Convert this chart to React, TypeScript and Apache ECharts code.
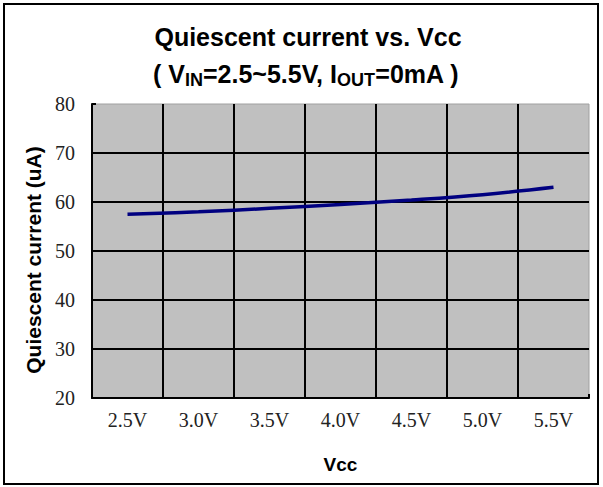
import React, { useEffect, useRef } from "react";
import * as echarts from "echarts";

const categories = ["2.5V", "3.0V", "3.5V", "4.0V", "4.5V", "5.0V", "5.5V"];
const currentValues = [57.5, 58.0, 58.7, 59.5, 60.4, 61.5, 63.0];
const yMin = 20;
const yMax = 80;
const yInterval = 10;

const SANS = "'Liberation Sans', Arial, sans-serif";
const SERIF = "Liberation Serif";

export default function App() {
  const ref = useRef<HTMLDivElement>(null);
  useEffect(() => {
    if (!ref.current) return;
    const chart = echarts.init(ref.current, null, { renderer: "svg" });
    chart.setOption({
      animation: false,
      backgroundColor: "#ffffff",
      textStyle: { fontFamily: SERIF },
      grid: {
        left: 92,
        right: 14,
        top: 104,
        bottom: 89,
        show: true,
        backgroundColor: "#C0C0C0",
        borderColor: "#A0A0A0",
        borderWidth: 1,
      },
      graphic: [
        {
          type: "rect",
          shape: { x: 4, y: 4, width: 594, height: 480 },
          style: { fill: "none", stroke: "#000", lineWidth: 2 },
          z: 100,
        },
        {
          type: "text",
          x: 308,
          y: 37,
          style: {
            text: "Quiescent current vs. Vcc",
            fontFamily: SANS,
            fontWeight: "bold",
            fontSize: 25,
            fill: "#000",
            align: "center",
            verticalAlign: "middle",
          },
        },
        {
          type: "text",
          x: 306,
          y: 74,
          style: {
            text: "( V{s|IN}=2.5~5.5V, I{s|OUT}=0mA )",
            fontFamily: SANS,
            fontWeight: "bold",
            fontSize: 25,
            fill: "#000",
            align: "center",
            verticalAlign: "middle",
            rich: {
              s: {
                fontFamily: SANS,
                fontWeight: "bold",
                fontSize: 18,
                fill: "#000",
                padding: [12, 0, 0, 0],
              },
            },
          },
        },
      ],
      xAxis: {
        type: "category",
        data: categories,
        boundaryGap: true,
        name: "Vcc",
        nameLocation: "middle",
        nameGap: 57,
        nameTextStyle: {
          fontFamily: SANS,
          fontWeight: "bold",
          fontSize: 19,
          color: "#000",
        },
        axisLine: { show: true, lineStyle: { color: "#000", width: 2 } },
        axisTick: { show: true, inside: true, length: 4, lineStyle: { color: "#000", width: 2 } },
        axisLabel: {
          margin: 12,
          fontFamily: SERIF,
          fontSize: 20,
          color: "#222",
        },
        splitLine: {
          show: true,
          showMinLine: false,
          showMaxLine: false,
          lineStyle: { color: "#000", width: 2 },
        },
      },
      yAxis: {
        type: "value",
        min: yMin,
        max: yMax,
        interval: yInterval,
        name: "Quiescent current (uA)",
        nameLocation: "middle",
        nameGap: 47,
        nameTextStyle: {
          fontFamily: SANS,
          fontWeight: "bold",
          fontSize: 21,
          color: "#000",
          padding: [0, 18, 0, 0],
        },
        axisLine: { show: true, lineStyle: { color: "#000", width: 2 } },
        axisTick: { show: true, inside: true, length: 4, lineStyle: { color: "#000", width: 2 } },
        axisLabel: {
          margin: 17,
          fontFamily: SERIF,
          fontWeight: "normal",
          fontSize: 20,
          color: "#222",
        },
        splitLine: {
          show: true,
          showMinLine: false,
          showMaxLine: false,
          lineStyle: { color: "#000", width: 2 },
        },
      },
      series: [
        {
          type: "line",
          data: currentValues,
          smooth: 0.4,
          showSymbol: false,
          symbol: "none",
          lineStyle: { color: "#000080", width: 3.5 },
          z: 5,
        },
      ],
    });
    return () => chart.dispose();
  }, []);
  return (
    <div
      ref={ref}
      style={{ position: "fixed", left: 0, top: 0, width: 603, height: 487 }}
    />
  );
}
